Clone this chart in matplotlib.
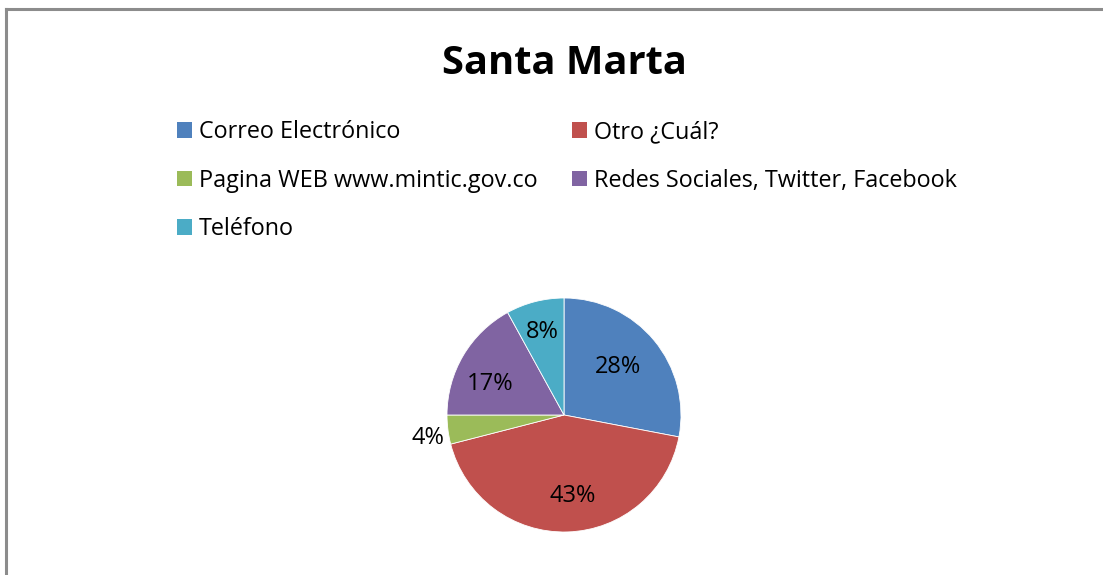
import numpy as np
import matplotlib.pyplot as plt
from matplotlib.lines import Line2D
from matplotlib.patches import Patch

# datos del gráfico
categorias = [
    "Correo Electrónico",
    "Otro ¿Cuál?",
    "Pagina WEB www.mintic.gov.co",
    "Redes Sociales, Twitter, Facebook",
    "Teléfono",
]
porcentajes = [28, 43, 4, 17, 8]
colores = ["#4F81BD", "#C0504D", "#9BBB59", "#8064A2", "#4BACC6"]

plt.rcParams["font.family"] = ["Open Sans", "DejaVu Sans"]

W, H = 1103, 575
fig = plt.figure(figsize=(W / 100, H / 100), dpi=100)

# marco (solo se ven borde superior e izquierdo)
fig.add_artist(Line2D([5.5 / W, 5.5 / W], [0, 1 - 8.5 / H], color="#8c8c8c", lw=2.2))
fig.add_artist(Line2D([5.5 / W, 1], [1 - 8.5 / H, 1 - 8.5 / H], color="#8c8c8c", lw=2.2))

fig.text(564 / W, 1 - 63 / H, "Santa Marta", ha="center", va="center",
         fontsize=28.7, fontweight="bold")

# pastel
cx, cy, r = 564, 415, 117
ax = fig.add_axes([(cx - r) / W, 1 - (cy + r) / H, 2 * r / W, 2 * r / H])
wedges, textos = ax.pie(
    porcentajes,
    colors=colores,
    startangle=90,
    counterclock=False,
    radius=1.0,
    wedgeprops=dict(edgecolor="white", linewidth=0.6),
)
ax.set_xlim(-1, 1)
ax.set_ylim(-1, 1)
ax.set_aspect("equal")
ax.axis("off")

# etiquetas de porcentaje (ajuste "best fit" aproximado)
dist = [0.62, 0.70, 1.18, 0.68, 0.73]
desvio = [2, 4, 2.5, 8, 0]  # grados
for w, p, d, g in zip(wedges, porcentajes, dist, desvio):
    ang = np.deg2rad((w.theta1 + w.theta2) / 2 + g)
    ax.text(d * np.cos(ang), d * np.sin(ang), f"{p}%", ha="center", va="center",
            fontsize=17, clip_on=False)

# leyenda (orden por filas)
orden = [0, 2, 4, 1, 3]
handles = [Patch(facecolor=colores[i], edgecolor="none") for i in orden]
labels = [categorias[i] for i in orden]
fig.legend(
    handles, labels,
    ncol=2,
    loc="upper left",
    bbox_to_anchor=(177 / W, 1 - 120 / H),
    frameon=False,
    fontsize=16.8,
    handlelength=0.65,
    handleheight=0.65,
    handletextpad=0.3,
    labelspacing=1.06,
    columnspacing=1.45,
    borderaxespad=0,
    borderpad=0,
)

fig.savefig("out.png", dpi=100)
